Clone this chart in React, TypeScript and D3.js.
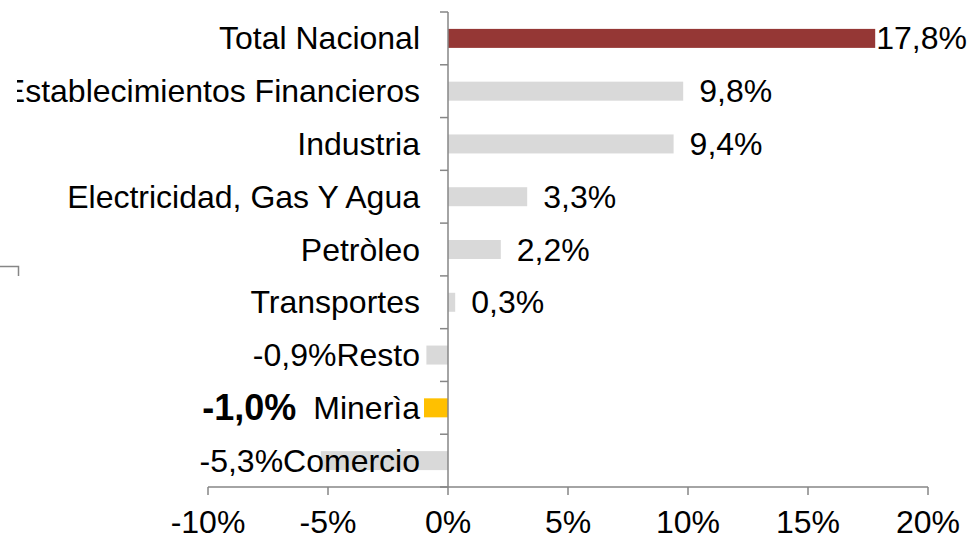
import React from "react";
import * as d3 from "d3";

const categories = [
  "Total Nacional",
  "Establecimientos Financieros",
  "Industria",
  "Electricidad, Gas Y Agua",
  "Petròleo",
  "Transportes",
  "Resto",
  "Minerìa",
  "Comercio",
];
const values = [17.8, 9.8, 9.4, 3.3, 2.2, 0.3, -0.9, -1.0, -5.3];
const kinds = ["total", "normal", "normal", "normal", "normal", "normal", "normal", "highlight", "normal"];
const xTicks = [-10, -5, 0, 5, 10, 15, 20];

const W = 971;
const H = 536;
const FONT = "'Liberation Sans', Arial, sans-serif";
const FS = 32;
const BOLD_FS = 36;

const colorFor: Record<string, string> = {
  total: "#953735",
  normal: "#D9D9D9",
  highlight: "#FFC000",
};

let ctx: CanvasRenderingContext2D | null = null;
function measure(text: string, size: number, bold = false) {
  if (!ctx) ctx = document.createElement("canvas").getContext("2d");
  if (!ctx) return text.length * size * 0.5;
  ctx.font = `${bold ? "bold " : ""}${size}px ${FONT}`;
  return ctx.measureText(text).width;
}

const fmt = (v: number) => v.toFixed(1).replace(".", ",") + "%";

export default function App() {
  const x = d3.scaleLinear().domain([-10, 20]).range([208, 928]);
  const y = d3.scaleBand<string>().domain(categories).range([12, 487]).padding(0);
  const bw = y.bandwidth();
  const barH = bw * 0.36;
  const axisColor = "#868686";
  const catRight = 420;
  const x0 = x(0);

  return (
    <svg
      width={W}
      height={H}
      style={{ position: "absolute", left: 0, top: 0, background: "#fff" }}
      fontFamily={FONT}
    >
      <defs>
        <clipPath id="catclip">
          <rect x={17} y={0} width={W} height={H} />
        </clipPath>
      </defs>
      {/* stray border artifact */}
      <path d="M0,266.5H18.5V276" fill="none" stroke={axisColor} strokeWidth={1.5} />

      {/* bars */}
      {categories.map((c, i) => {
        const v = values[i];
        const cy = (y(c) as number) + bw / 2;
        return (
          <rect
            key={"b" + c}
            x={Math.min(x(v), x0)}
            y={cy - barH / 2}
            width={Math.abs(x(v) - x0)}
            height={barH}
            fill={colorFor[kinds[i]]}
          />
        );
      })}

      {/* y axis */}
      <line x1={x0} x2={x0} y1={12} y2={487} stroke={axisColor} strokeWidth={1.5} />
      {d3.range(categories.length + 1).map((i) => {
        const yy = 12 + i * bw;
        return <line key={"yt" + i} x1={x0 - 8} x2={x0} y1={yy} y2={yy} stroke={axisColor} strokeWidth={1.5} />;
      })}

      {/* x axis */}
      <line x1={x(-10)} x2={x(20)} y1={487} y2={487} stroke={axisColor} strokeWidth={1.5} />
      {xTicks.map((t) => (
        <g key={"xt" + t}>
          <line x1={x(t)} x2={x(t)} y1={487} y2={495} stroke={axisColor} strokeWidth={1.5} />
          <text x={x(t)} y={533} textAnchor="middle" fontSize={FS} fill="#000">
            {t + "%"}
          </text>
        </g>
      ))}

      {/* category labels */}
      <g clipPath="url(#catclip)">
        {categories.map((c) => {
          const cy = (y(c) as number) + bw / 2;
          return (
            <text key={"c" + c} x={catRight} y={cy + 11} textAnchor="end" fontSize={FS} fill="#000">
              {c}
            </text>
          );
        })}
      </g>

      {/* value labels */}
      {categories.map((c, i) => {
        const v = values[i];
        const cy = (y(c) as number) + bw / 2;
        const label = fmt(v);
        if (v >= 0) {
          const w = measure(label, FS);
          const lx = Math.min(x(v) + 16, W - 4 - w);
          return (
            <text key={"v" + c} x={lx} y={cy + 11} fontSize={FS} fill="#000">
              {label}
            </text>
          );
        }
        const bold = kinds[i] === "highlight";
        const cw = measure(c, FS);
        const gap = bold ? 17 : 0;
        return (
          <text
            key={"v" + c}
            x={catRight - cw - gap}
            y={cy + (bold ? 12.5 : 11)}
            textAnchor="end"
            fontSize={bold ? BOLD_FS : FS}
            fontWeight={bold ? "bold" : "normal"}
            fill="#000"
          >
            {label}
          </text>
        );
      })}
    </svg>
  );
}
